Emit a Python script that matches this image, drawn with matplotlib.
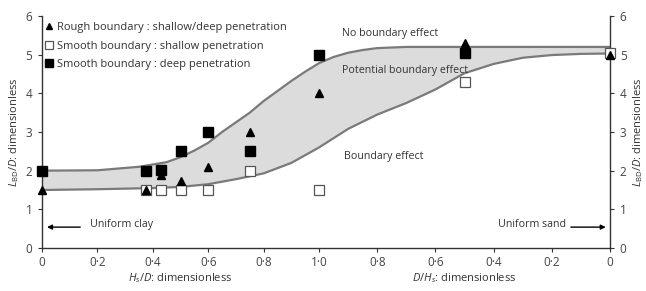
import numpy as np
import matplotlib
matplotlib.use("Agg")
import matplotlib.pyplot as plt

plt.rcParams['font.family'] = ['Open Sans', 'DejaVu Sans']
plt.rcParams['mathtext.fontset'] = 'custom'
plt.rcParams['mathtext.rm'] = 'Open Sans'
plt.rcParams['mathtext.it'] = 'Open Sans:italic'

# ---- data ----
# left half: Hs/D ; right half: D/Hs (plotted at 2 - D/Hs)
rough_left_x = [0, 0.375, 0.43, 0.5, 0.6, 0.75, 1.0]
rough_left_y = [1.5, 1.5, 1.88, 1.73, 2.1, 3.0, 4.0]
rough_right_x = [0.5, 0.0]
rough_right_y = [5.3, 5.0]

shallow_left_x = [0.375, 0.43, 0.5, 0.6, 0.75, 1.0]
shallow_left_y = [1.5, 1.5, 1.5, 1.5, 2.0, 1.5]
shallow_right_x = [0.5, 0.0]
shallow_right_y = [4.3, 5.05]

deep_left_x = [0, 0.375, 0.43, 0.5, 0.6, 0.75, 1.0]
deep_left_y = [2.0, 2.0, 2.02, 2.5, 3.0, 2.5, 5.0]
deep_right_x = [0.5]
deep_right_y = [5.05]

# envelope curves along the combined axis (0..1 Hs/D, 1..2 -> D/Hs 1..0)
upper_u = [0, 0.2, 0.35, 0.45, 0.5, 0.55, 0.6, 0.65, 0.7, 0.75, 0.8, 0.85,
           0.9, 0.95, 1.0, 1.05, 1.1, 1.15, 1.2, 1.3, 1.5, 2.0]
upper_y = [2.0, 2.01, 2.1, 2.22, 2.35, 2.52, 2.72, 3.0, 3.25, 3.5, 3.8, 4.06,
           4.32, 4.56, 4.78, 4.94, 5.05, 5.12, 5.17, 5.2, 5.2, 5.2]
lower_u = [0, 0.2, 0.4, 0.5, 0.6, 0.7, 0.8, 0.9, 1.0, 1.1, 1.2, 1.3, 1.4,
           1.5, 1.6, 1.7, 1.8, 1.9, 2.0]
lower_y = [1.5, 1.52, 1.55, 1.58, 1.65, 1.78, 1.93, 2.2, 2.6, 3.08, 3.45,
           3.75, 4.1, 4.52, 4.76, 4.92, 4.99, 5.02, 5.03]

tick_pos = [0, 0.2, 0.4, 0.6, 0.8, 1.0, 1.2, 1.4, 1.6, 1.8, 2.0]
tick_labels = ['0', '0·2', '0·4', '0·6', '0·8', '1·0', '0·8', '0·6', '0·4', '0·2', '0']

def right(xs):
    return [2 - v for v in xs]

# piecewise scale: left half slightly narrower than right half
L, R = 277.0, 291.0
def fwd(u):
    u = np.asarray(u, dtype=float)
    return np.where(u <= 1, u * L, L + (u - 1) * R)
def inv(p):
    p = np.asarray(p, dtype=float)
    return np.where(p <= L, p / L, 1 + (p - L) / R)

fig = plt.figure(figsize=(6.46, 2.91), dpi=100)
ax = fig.add_axes([42/646, 43/291, 568/646, 232/291])
ax.set_xscale('function', functions=(fwd, inv))

fillc = '#dcdcdc'
linec = '#7a7a7a'
ax.fill(list(upper_u) + list(lower_u[::-1]), list(upper_y) + list(lower_y[::-1]),
        color=fillc, lw=0, zorder=1)
ax.plot(upper_u, upper_y, color=linec, lw=1.6, zorder=2)
ax.plot(lower_u, lower_y, color=linec, lw=1.6, zorder=2)

ax.plot(shallow_left_x + right(shallow_right_x), shallow_left_y + shallow_right_y,
        ls='none', marker='s', ms=6.5, mfc='white', mec='#555555', mew=0.9, zorder=3,
        clip_on=False, label='Smooth boundary : shallow penetration')
ax.plot(deep_left_x + right(deep_right_x), deep_left_y + deep_right_y,
        ls='none', marker='s', ms=7, mfc='black', mec='black', zorder=4,
        clip_on=False, label='Smooth boundary : deep penetration')
ax.plot(rough_left_x + right(rough_right_x), rough_left_y + rough_right_y,
        ls='none', marker='^', ms=5.5, mfc='black', mec='black', zorder=5,
        clip_on=False, label='Rough boundary : shallow/deep penetration')

h, l = ax.get_legend_handles_labels()
order = [2, 0, 1]
leg = ax.legend([h[i] for i in order], [l[i] for i in order], loc='upper left',
                bbox_to_anchor=(0.005, 0.975), frameon=False, fontsize=8,
                handlelength=0.7, handletextpad=0.4, borderpad=0, borderaxespad=0,
                labelspacing=0.7, markerscale=0.85)
for t in leg.get_texts():
    t.set_color('#333333')

ax.set_xlim(0, 2)
ax.set_ylim(0, 6)
ax.set_xticks(tick_pos)
ax.set_xticklabels(tick_labels)
ax.set_yticks(range(7))
ax.spines['top'].set_visible(False)
for s in ['left', 'right', 'bottom']:
    ax.spines[s].set_color('#333333')
    ax.spines[s].set_linewidth(1.0)
ax.tick_params(axis='both', direction='out', length=3, width=0.8, colors='#333333',
               labelsize=8.5, labelcolor='#444444')
ax.tick_params(axis='y', right=True, labelright=True, pad=4)
ax.tick_params(axis='x', pad=3)

ylab = r'$L_{\mathrm{BD}}/D$: dimensionless'
ax.set_ylabel(ylab, fontsize=8, color='#333333', labelpad=3)
ax.text(1.05, 0.5, ylab, transform=ax.transAxes, rotation=90, fontsize=8,
        color='#333333', ha='center', va='center')

tr = ax.get_xaxis_transform()
ax.text(0.5, -0.13, r'$H_s/D$: dimensionless', transform=tr, ha='center', va='center',
        fontsize=8, color='#333333')
ax.text(1.5, -0.13, r'$D/H_s$: dimensionless', transform=tr, ha='center', va='center',
        fontsize=8, color='#333333')

tc = '#333333'
ax.text(1.079, 5.55, 'No boundary effect', fontsize=7.7, color=tc, va='center')
ax.text(1.079, 4.6, 'Potential boundary effect', fontsize=7.7, color=tc, va='center')
ax.text(1.086, 2.37, 'Boundary effect', fontsize=7.7, color=tc, va='center')

ax.text(0.173, 0.6, 'Uniform clay', fontsize=7.7, color=tc, va='center')
ax.annotate('', xy=(0.008, 0.54), xytext=(0.148, 0.54),
            arrowprops=dict(arrowstyle='-|>', color='black', lw=1, mutation_scale=7))
ax.text(1.849, 0.6, 'Uniform sand', fontsize=7.7, color=tc, va='center', ha='right')
ax.annotate('', xy=(1.995, 0.54), xytext=(1.856, 0.54),
            arrowprops=dict(arrowstyle='-|>', color='black', lw=1, mutation_scale=7))

fig.savefig('out.png', dpi=100)
